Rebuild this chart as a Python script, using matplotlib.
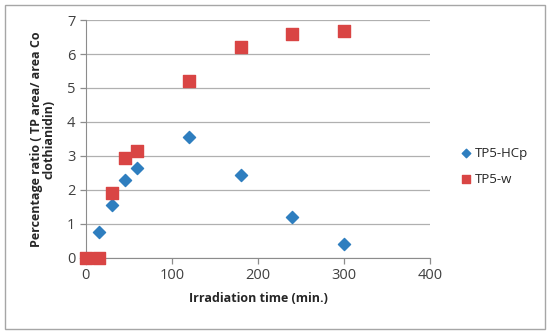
"""Percentage ratio of TP5 vs irradiation time"""

import matplotlib.pyplot as plt
from matplotlib.patches import Rectangle

# data
time_hcp = [0, 15, 30, 45, 60, 120, 180, 240, 300]
ratio_hcp = [0, 0.75, 1.55, 2.28, 2.65, 3.55, 2.45, 1.2, 0.42]
time_w = [0, 15, 30, 45, 60, 120, 180, 240, 300]
ratio_w = [0, 0, 1.9, 2.95, 3.15, 5.2, 6.22, 6.6, 6.68]

plt.rcParams["font.family"] = ["Open Sans", "DejaVu Sans"]

fig = plt.figure(figsize=(5.5, 3.34), dpi=100)
ax = fig.add_axes([0.156, 0.228, 0.626, 0.712])

ax.scatter(time_hcp, ratio_hcp, marker="D", s=38, color="#2e7ebf", label="TP5-HCp", zorder=3)
ax.scatter(time_w, ratio_w, marker="s", s=66, color="#d94544", label="TP5-w", zorder=4)

ax.set_xlim(0, 400)
ax.set_ylim(0, 7)
ax.set_xticks(range(0, 401, 100))
ax.set_yticks(range(0, 8))
ax.grid(axis="y", color="#b0b0b0", linewidth=0.9)
ax.set_axisbelow(True)
for side in ["top", "right"]:
    ax.spines[side].set_visible(False)
for side in ["left", "bottom"]:
    ax.spines[side].set_color("#8c8c8c")
ax.tick_params(colors="#8c8c8c", labelcolor="#404040", labelsize=10.5, length=4, width=0.9)
for c in ax.collections:
    c.set_clip_on(False)

ax.set_xlabel("Irradiation time (min.)", fontsize=9, fontweight="bold", color="#262626", labelpad=6)
ax.set_ylabel("Percentage ratio ( TP area/ area Co\nclothianidin)", fontsize=9,
              fontweight="bold", color="#262626", linespacing=1.0, labelpad=8)

ax.legend(loc="center left", bbox_to_anchor=(1.05, 0.385), frameon=False, fontsize=9.5,
          handletextpad=0.2, handlelength=1.0, labelspacing=1.0, markerscale=0.7,
          labelcolor="#262626")

fig.patches.append(Rectangle((0.009, 0.015), 0.982, 0.97, transform=fig.transFigure,
                             fill=False, edgecolor="#a6a6a6", linewidth=1.0))

fig.savefig("out.png", dpi=100)
